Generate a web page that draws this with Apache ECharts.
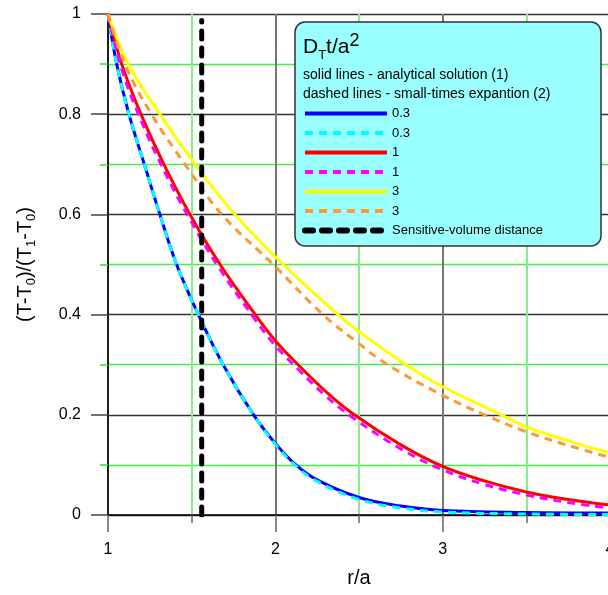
<!DOCTYPE html>
<html>
<head>
<meta charset="utf-8">
<script src="https://cdn.jsdelivr.net/npm/echarts@6/dist/echarts.min.js"></script>
<style>
html, body { margin: 0; padding: 0; background: #fff; }
#chart { width: 608px; height: 595px; }
</style>
</head>
<body>
<div id="chart"></div>
<script>
// axis ticks
var xTicks = [1, 2, 3, 4];
var yTicks = [0, 0.2, 0.4, 0.6, 0.8, 1];

// D_T t / a^2 = 0.3
var rSolid03 = [1, 1.052, 1.125, 1.217, 1.31, 1.41, 1.54, 1.688, 1.87, 2.0, 2.116, 2.25, 2.5, 2.75, 3, 3.5, 4];
var vSolid03 = [1, 0.9, 0.8, 0.7, 0.6, 0.5, 0.4, 0.3, 0.2, 0.143, 0.102, 0.07, 0.035, 0.018, 0.009, 0.005, 0.004];
var rDash03 = [1, 1.052, 1.125, 1.217, 1.31, 1.41, 1.54, 1.688, 1.87, 2.0, 2.116, 2.25, 2.5, 2.75, 3, 3.5, 4];
var vDash03 = [1, 0.9, 0.8, 0.7, 0.6, 0.5, 0.4, 0.3, 0.2, 0.141, 0.1, 0.067, 0.031, 0.014, 0.006, 0.002, 0.001];

// D_T t / a^2 = 1
var rSolid1 = [1, 1.082, 1.197, 1.334, 1.49, 1.67, 1.88, 2.0, 2.136, 2.3, 2.464, 2.75, 3, 3.25, 3.5, 3.75, 4];
var vSolid1 = [1, 0.9, 0.8, 0.7, 0.6, 0.5, 0.4, 0.348, 0.3, 0.247, 0.202, 0.14, 0.097, 0.068, 0.046, 0.031, 0.02];
var rDash1 = [1, 1.082, 1.197, 1.334, 1.49, 1.67, 1.88, 2.0, 2.136, 2.3, 2.464, 2.75, 3, 3.25, 3.5, 3.75, 4];
var vDash1 = [1, 0.89, 0.788, 0.688, 0.59, 0.49, 0.39, 0.338, 0.291, 0.238, 0.194, 0.132, 0.09, 0.061, 0.04, 0.025, 0.014];

// D_T t / a^2 = 3
var rSolid3 = [1, 1.121, 1.31, 1.52, 1.758, 2.047, 2.375, 2.5, 2.78, 3, 3.35, 3.5, 3.75, 4];
var vSolid3 = [1, 0.9, 0.8, 0.7, 0.6, 0.5, 0.4, 0.366, 0.3, 0.256, 0.2, 0.176, 0.148, 0.124];
var rDash3 = [1, 1.101, 1.26, 1.46, 1.68, 1.987, 2.285, 2.5, 2.67, 3, 3.25, 3.5, 3.75, 4];
var vDash3 = [1, 0.9, 0.8, 0.7, 0.6, 0.5, 0.4, 0.342, 0.3, 0.239, 0.2, 0.166, 0.139, 0.115];

// sensitive-volume distance
var rSensitive = [1.56, 1.56];
var vSensitive = [0, 0.987];

var seriesNames = ['s03', 'd03', 's1', 'd1', 's3', 'd3', 'sv'];
var seriesLabels = ['0.3', '0.3', '1', '1', '3', '3', 'Sensitive-volume distance'];

var font = 'Arial, "Liberation Sans", sans-serif';

function pairs(xs, ys) {
    return xs.map(function (x, i) { return [x, ys[i]]; });
}

var myChart = echarts.init(document.getElementById('chart'));

function curve(name, data, color, dashed) {
    return {
        name: name,
        type: 'line',
        data: data,
        smooth: 0.4,
        showSymbol: false,
        symbol: 'none',
        z: 3,
        lineStyle: {
            color: color,
            width: 3,
            type: dashed ? [8, 6] : 'solid'
        },
        itemStyle: { color: color }
    };
}

// legend entries: thicker line icons, no symbol
var legendData = seriesNames.map(function (n) {
    return {
        name: n,
        itemStyle: { opacity: 0 },
        lineStyle: { width: n === 'sv' ? 6 : 4 }
    };
});

var option = {
    animation: false,
    textStyle: { fontFamily: font },
    grid: { left: 108, right: -2, top: 14, bottom: 80, outerBoundsMode: 'none' },
    xAxis: {
        type: 'value',
        min: xTicks[0],
        max: xTicks[xTicks.length - 1],
        interval: xTicks[1] - xTicks[0],
        name: 'r/a',
        nameLocation: 'middle',
        nameGap: 53,
        nameTextStyle: { fontSize: 20, color: '#000', fontFamily: font },
        axisLine: { onZero: false, lineStyle: { color: '#000', width: 1.5 } },
        axisTick: { length: 17, lineStyle: { color: '#666', width: 1.5 } },
        minorTick: { show: true, splitNumber: 2, length: 8, lineStyle: { color: '#666', width: 1.5 } },
        axisLabel: { fontSize: 16, color: '#000', margin: 27, fontFamily: font, hideOverlap: false },
        splitLine: { show: true, lineStyle: { color: '#777', width: 2 } },
        minorSplitLine: { show: true, lineStyle: { color: '#88ee88', width: 2 } }
    },
    yAxis: {
        type: 'value',
        min: yTicks[0],
        max: yTicks[yTicks.length - 1],
        interval: yTicks[1] - yTicks[0],
        name: '{a|(T-T}{b|0}{a|)/(T}{b|1}{a|-T}{b|0}{a|)}',
        nameLocation: 'middle',
        nameGap: 70,
        nameRotate: 90,
        nameTextStyle: {
            color: '#000',
            rich: {
                a: { fontSize: 20, lineHeight: 26, color: '#000', fontFamily: font },
                b: { fontSize: 13, lineHeight: 14, verticalAlign: 'bottom', color: '#000', fontFamily: font }
            }
        },
        axisLine: { show: true, lineStyle: { color: '#000', width: 1.5 } },
        axisTick: { show: true, length: 17, lineStyle: { color: '#444', width: 1.5 } },
        minorTick: { show: true, splitNumber: 2, length: 8, lineStyle: { color: '#33dd33', width: 1.5 } },
        axisLabel: { fontSize: 16, color: '#000', margin: 27, fontFamily: font },
        splitLine: { show: true, lineStyle: { color: '#333', width: 1.3 } },
        minorSplitLine: { show: true, lineStyle: { color: '#44ee44', width: 1.3 } }
    },
    legend: {
        orient: 'vertical',
        left: 302,
        top: 107,
        padding: 0,
        itemWidth: 82,
        itemHeight: 14,
        itemGap: 6.5,
        selectedMode: false,
        z: 12,
        data: legendData,
        formatter: function (name) {
            return seriesLabels[seriesNames.indexOf(name)];
        },
        textStyle: { fontSize: 13, color: '#000', fontFamily: font }
    },
    graphic: [
        {
            type: 'rect',
            z: 10,
            shape: { x: 295, y: 22, width: 306, height: 224, r: 10 },
            style: { fill: '#99ffff', stroke: '#333', lineWidth: 1.5 }
        },
        {
            type: 'text',
            z: 11,
            left: 303,
            top: 32,
            style: {
                text: '{m|D}{s|T}{m|t/a}{p|2}',
                rich: {
                    m: { fontSize: 21, lineHeight: 30, verticalAlign: 'middle', fill: '#000', fontFamily: font },
                    s: { fontSize: 13, lineHeight: 18, verticalAlign: 'bottom', fill: '#000', fontFamily: font },
                    p: { fontSize: 18, lineHeight: 24, verticalAlign: 'top', fill: '#000', fontFamily: font }
                }
            }
        },
        {
            type: 'text',
            z: 11,
            left: 303,
            top: 68,
            style: {
                text: 'solid lines - analytical solution (1)',
                fontSize: 14,
                fill: '#000',
                fontFamily: font
            }
        },
        {
            type: 'text',
            z: 11,
            left: 303,
            top: 87,
            style: {
                text: 'dashed lines - small-times expantion (2)',
                fontSize: 14,
                fill: '#000',
                fontFamily: font
            }
        }
    ],
    series: [
        curve('s03', pairs(rSolid03, vSolid03), '#0000ff', false),
        curve('d03', pairs(rDash03, vDash03), '#00ffff', true),
        curve('s1', pairs(rSolid1, vSolid1), '#ff0000', false),
        curve('d1', pairs(rDash1, vDash1), '#ff00ff', true),
        curve('s3', pairs(rSolid3, vSolid3), '#ffff00', false),
        curve('d3', pairs(rDash3, vDash3), '#ff9933', true),
        {
            name: 'sv',
            type: 'line',
            data: pairs(rSensitive, vSensitive),
            showSymbol: false,
            symbol: 'none',
            z: 4,
            lineStyle: { color: '#000', width: 5, type: [8, 9], cap: 'round' },
            itemStyle: { color: '#000' }
        }
    ]
};

myChart.setOption(option);

window.addEventListener('resize', function () {
    myChart.resize();
});
</script>
</body>
</html>
